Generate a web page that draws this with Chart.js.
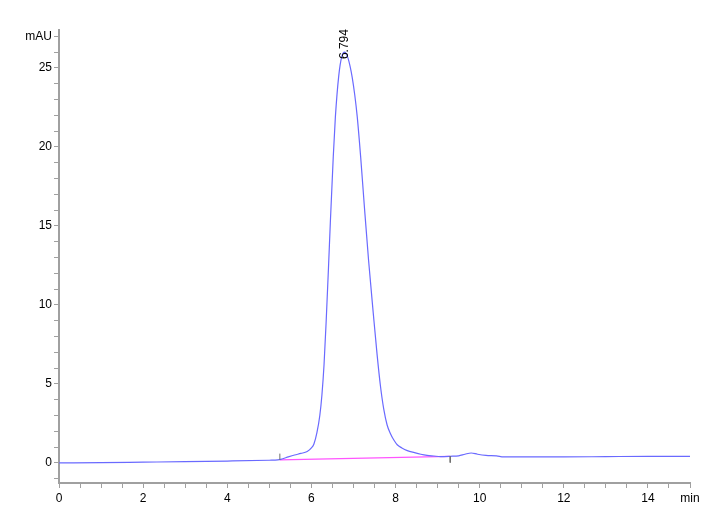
<!DOCTYPE html>
<html>
<head>
<meta charset="utf-8">
<script src="https://cdn.jsdelivr.net/npm/chart.js@4/dist/chart.umd.min.js"></script>
<style>
  html, body { margin: 0; padding: 0; background: #fff; }
  #wrap { width: 720px; height: 528px; }
</style>
</head>
<body>
<div id="wrap"><canvas id="chrom"></canvas></div>
<script>
// -------------------------
// Data
// -------------------------
const times = [0, 1, 2, 3, 4, 5, 5.2, 5.3, 5.45, 5.6, 5.75, 5.9,
  6.0, 6.06, 6.13, 6.2, 6.25, 6.3, 6.35, 6.41, 6.45, 6.52, 6.57, 6.65,
  6.72, 6.79, 6.86, 6.92, 6.97, 7.03, 7.09, 7.17, 7.26, 7.36, 7.47, 7.56,
  7.64, 7.72, 7.8, 7.88, 7.96, 8.04, 8.15, 8.28, 8.45, 8.6, 8.75, 8.91,
  9.07, 9.3, 9.5, 9.65, 9.8, 9.95, 10.15, 10.4, 10.57, 11, 12, 13, 14, 15];
const signal = [0, 0.02, 0.05, 0.08, 0.12, 0.17, 0.19, 0.25, 0.38, 0.5, 0.6, 0.72,
  0.95, 1.2, 1.9, 3.0, 4.3, 6.2, 8.9, 12.6, 15.2, 19.4, 21.9, 24.5,
  25.7, 26.0, 25.7, 25.1, 24.4, 23.3, 21.9, 19.4, 16.2, 12.8, 9.5, 6.9,
  4.9, 3.4, 2.4, 1.85, 1.45, 1.15, 0.95, 0.78, 0.65, 0.55, 0.48, 0.44,
  0.40, 0.42, 0.45, 0.55, 0.63, 0.55, 0.48, 0.45, 0.38, 0.38, 0.38, 0.40, 0.42, 0.42];

// integration baseline (start, end) and peak label
const baseTimes = [5.25, 9.3];
const baseValues = [0.19, 0.42];
const peakTime = 6.794;
const peakLabel = "6.794";

// axis ticks
const xTicks = [];
for (let i = 0; i <= 30; i++) xTicks.push(i / 2);
const yTicks = [];
for (let i = -1; i <= 27; i++) yTicks.push(i);

const toPoints = (xs, ys) => xs.map((x, i) => ({ x: x, y: ys[i] }));

// -------------------------
// Peak label plugin
// -------------------------
const peakLabelPlugin = {
  id: "peakLabel",
  afterDatasetsDraw(chart) {
    const ctx = chart.ctx;
    const xs = chart.scales.x, ys = chart.scales.y;
    const top = Math.max(...signal);
    const px = xs.getPixelForValue(peakTime);
    const py = ys.getPixelForValue(top) + 7;
    ctx.save();
    ctx.translate(px, py);
    ctx.rotate(-Math.PI / 2);
    ctx.font = "12px 'Liberation Sans', Arial, sans-serif";
    ctx.fillStyle = "#000";
    ctx.textAlign = "left";
    ctx.textBaseline = "middle";
    ctx.fillText(peakLabel, 0, 0);
    ctx.restore();
  }
};

const axisGrey = "#a0a0a0";
const tickFont = { family: "'Liberation Sans', Arial, sans-serif", size: 12 };

new Chart(document.getElementById("chrom"), {
  type: "line",
  data: {
    datasets: [
      {
        data: toPoints(times, signal),
        borderColor: "#6a6aff",
        borderWidth: 1.2,
        pointRadius: 0,
        cubicInterpolationMode: "monotone",
        order: 1
      },
      {
        data: toPoints(baseTimes, baseValues),
        borderColor: "#ff55ff",
        borderWidth: 1.2,
        pointRadius: 0,
        order: 2
      },
      {
        data: [{ x: baseTimes[0], y: baseValues[0] }, { x: baseTimes[0], y: baseValues[0] + 0.4 }],
        borderColor: "#707070",
        borderWidth: 1,
        pointRadius: 0
      },
      {
        data: [{ x: baseTimes[1], y: baseValues[1] }, { x: baseTimes[1], y: baseValues[1] - 0.4 }],
        borderColor: "#707070",
        borderWidth: 1,
        pointRadius: 0
      }
    ]
  },
  options: {
    responsive: true,
    maintainAspectRatio: false,
    animation: false,
    layout: { padding: { top: 30, right: 30, left: 0, bottom: 0 } },
    plugins: { legend: { display: false }, tooltip: { enabled: false } },
    scales: {
      x: {
        type: "linear",
        min: 0,
        max: 15,
        afterBuildTicks: s => { s.ticks = xTicks.map(v => ({ value: v })); },
        afterFit: s => { s.height = 45; },
        border: { color: axisGrey, width: 2 },
        grid: { drawOnChartArea: false, color: axisGrey, tickLength: 5, tickWidth: 1 },
        ticks: {
          autoSkip: false,
          maxRotation: 0,
          padding: 3,
          color: "#000",
          font: tickFont,
          callback: v => (v === 15 ? "min" : (v % 2 === 0 ? String(v) : ""))
        }
      },
      y: {
        type: "linear",
        min: -1.27,
        max: 27.4,
        afterBuildTicks: s => { s.ticks = yTicks.map(v => ({ value: v })); },
        afterFit: s => { s.width = 59; },
        border: { color: axisGrey, width: 2 },
        grid: { drawOnChartArea: false, color: axisGrey, tickLength: 5, tickWidth: 1 },
        ticks: {
          autoSkip: false,
          padding: 2,
          color: "#000",
          font: tickFont,
          callback: v => (v === 27 ? "mAU" : (v % 5 === 0 ? String(v) : ""))
        }
      }
    }
  },
  plugins: [peakLabelPlugin]
});
</script>
</body>
</html>
